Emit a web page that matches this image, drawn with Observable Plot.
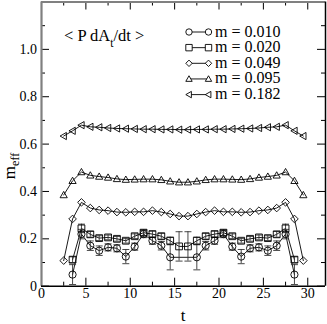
<!DOCTYPE html>
<html><head><meta charset="utf-8">
<script src="https://cdn.jsdelivr.net/npm/d3@7"></script>
<script src="https://cdn.jsdelivr.net/npm/@observablehq/plot@0.6"></script>
<style>
body{margin:0;background:#fff}
svg{display:block}
svg text, svg tspan{font-family:"Liberation Serif","Times New Roman",serif !important;}
</style>
</head><body><div id="chart"></div>
<script>
// ---- data ----
const tFull = [2.5,3.5,4.5,5.5,6.5,7.5,8.5,9.5,10.5,11.5,12.5,13.5,14.5,15.5,16.5,17.5,18.5,19.5,20.5,21.5,22.5,23.5,24.5,25.5,26.5,27.5,28.5,29.5];
const m182 = [0.634,0.656,0.680,0.673,0.671,0.668,0.666,0.665,0.664,0.663,0.663,0.662,0.662,0.661,0.661,0.662,0.662,0.663,0.663,0.664,0.665,0.666,0.668,0.671,0.673,0.680,0.656,0.634];
const m095 = [0.385,0.445,0.482,0.468,0.463,0.459,0.453,0.450,0.451,0.452,0.452,0.449,0.443,0.439,0.439,0.443,0.449,0.452,0.452,0.451,0.450,0.453,0.459,0.463,0.468,0.482,0.445,0.385];
const m049 = [0.108,0.284,0.354,0.330,0.322,0.319,0.313,0.312,0.314,0.314,0.319,0.313,0.305,0.296,0.296,0.305,0.313,0.319,0.314,0.314,0.312,0.313,0.319,0.322,0.330,0.354,0.284,0.108];

const tMid = [3.5,4.5,5.5,6.5,7.5,8.5,9.5,10.5,11.5,12.5,13.5,14.5,15.5,16.5,17.5,18.5,19.5,20.5,21.5,22.5,23.5,24.5,25.5,26.5,27.5,28.5];
const m020 = [0.112,0.244,0.219,0.203,0.206,0.200,0.192,0.211,0.226,0.220,0.211,0.192,0.168,0.168,0.192,0.211,0.220,0.226,0.211,0.192,0.200,0.206,0.203,0.219,0.244,0.112];
const e020 = [0.012,0.018,0.012,0.010,0.010,0.010,0.010,0.010,0.012,0.012,0.012,0.015,0.062,0.062,0.015,0.012,0.012,0.012,0.010,0.010,0.010,0.010,0.010,0.012,0.018,0.012];

const tLow = [3.5,4.5,5.5,6.5,7.5,8.5,9.5,10.5,11.5,12.5,13.5,14.5,17.5,18.5,19.5,20.5,21.5,22.5,23.5,24.5,25.5,26.5,27.5,28.5];
const m010 = [0.049,0.220,0.171,0.150,0.164,0.160,0.125,0.167,0.220,0.192,0.171,0.122,0.122,0.171,0.192,0.220,0.167,0.125,0.160,0.164,0.150,0.171,0.220,0.049];
const e010 = [0.042,0.020,0.020,0.020,0.015,0.015,0.030,0.015,0.015,0.015,0.018,0.053,0.053,0.018,0.015,0.015,0.015,0.030,0.015,0.015,0.020,0.020,0.020,0.042];

const seriesNames = ["m = 0.010","m = 0.020","m = 0.049","m = 0.095","m = 0.182"];
const xTicks = [0,5,10,15,20,25,30];
const xMinor = [2.5,7.5,12.5,17.5,22.5,27.5];
const yTicks = [0,0.2,0.4,0.6,0.8,1.0];
const yMinor = [0.1,0.3,0.5,0.7,0.9,1.1];

// ---- symbols ----
const mk = f => ({draw(c, size){ const r = Math.sqrt(size/Math.PI); f(c, r); }});
const symCircle = mk((c,r)=>{ c.moveTo(r,0); c.arc(0,0,r,0,2*Math.PI); c.closePath(); });
const symSquare = mk((c,r)=>{ c.moveTo(-r,-r); c.lineTo(r,-r); c.lineTo(r,r); c.lineTo(-r,r); c.closePath(); });
const symDiamond = mk((c,r)=>{ c.moveTo(0,-r); c.lineTo(r,0); c.lineTo(0,r); c.lineTo(-r,0); c.closePath(); });
const symUp = mk((c,r)=>{ c.moveTo(0,-r); c.lineTo(r,r*0.75); c.lineTo(-r,r*0.75); c.closePath(); });
const symLeft = mk((c,r)=>{ c.moveTo(-r,0); c.lineTo(r*0.75,-r); c.lineTo(r*0.75,r); c.closePath(); });
const symCap = mk((c,r)=>{ c.moveTo(-r,0); c.lineTo(r,0); });

const series = [
  {name: seriesNames[0], t: tLow, v: m010, e: e010, symbol: symCircle, r: 3.6},
  {name: seriesNames[1], t: tMid, v: m020, e: e020, symbol: symSquare, r: 3.4},
  {name: seriesNames[2], t: tFull, v: m049, e: null, symbol: symDiamond, r: 3.8},
  {name: seriesNames[3], t: tFull, v: m095, e: null, symbol: symUp, r: 3.6},
  {name: seriesNames[4], t: tFull, v: m182, e: null, symbol: symLeft, r: 3.6}
];
const rowsOf = s => s.t.map((t,i)=>({t, v: s.v[i], e: s.e ? s.e[i] : 0, key: s.name}));
const rows = series.flatMap(rowsOf);
const errRows = rows.filter(d => d.e > 0);

const W = 327, H = 324, mL = 41, mR = 2, mT = 1.5, mB = 38.3;
const pw = W - mL - mR, ph = H - mT - mB;
const FONT = "Liberation Serif, Times New Roman, serif";

const chart = Plot.plot({
  width: W, height: H,
  marginLeft: mL, marginRight: mR, marginTop: mT, marginBottom: mB,
  style: {fontFamily: FONT, fontSize: "14px", color: "#000", background: "#fff"},
  x: {domain: [0, 32]},
  y: {domain: [0, 1.2]},
  marks: [
    Plot.axisX({ticks: xTicks, tickSize: 0, tickPadding: 1.5, label: null, fontSize: 14, fontFamily: FONT, fill: "#000"}),
    Plot.axisY({ticks: yTicks, tickSize: 0, tickPadding: 4.5, label: null, fontSize: 14, fontFamily: FONT, fill: "#000",
      tickFormat: d => d === 0 ? "0" : d.toFixed(1)}),
    // inward ticks
    Plot.tickY(yTicks, {y: d => d, insetRight: pw - 8, stroke: "#000"}),
    Plot.tickY(yMinor, {y: d => d, insetRight: pw - 4, stroke: "#000"}),
    Plot.tickY(yTicks, {y: d => d, insetLeft: pw - 8, stroke: "#000"}),
    Plot.tickY(yMinor, {y: d => d, insetLeft: pw - 4, stroke: "#000"}),
    Plot.tickX(xTicks, {x: d => d, insetTop: ph - 8, stroke: "#000"}),
    Plot.tickX(xMinor, {x: d => d, insetTop: ph - 4, stroke: "#000"}),
    Plot.tickX(xTicks, {x: d => d, insetBottom: ph - 8, stroke: "#000"}),
    Plot.tickX(xMinor, {x: d => d, insetBottom: ph - 4, stroke: "#000"}),
    // frame
    Plot.ruleY([1.2], {stroke: "#808080", strokeWidth: 2.2}),
    Plot.ruleX([0], {stroke: "#808080", strokeWidth: 2.2}),
    Plot.ruleY([0], {stroke: "#000", strokeWidth: 1.5}),
    Plot.ruleX([32], {stroke: "#000", strokeWidth: 1.5}),
    // data
    Plot.line(rows, {x: "t", y: "v", z: "key", stroke: "#000", strokeWidth: 0.9}),
    Plot.ruleX(errRows, {x: "t", y1: d => d.v - d.e, y2: d => d.v + d.e, stroke: "#333", strokeWidth: 0.9}),
    Plot.dot(errRows, {x: "t", y: d => d.v + d.e, symbol: symCap, r: 3.5, stroke: "#333", fill: "none", strokeWidth: 0.9}),
    Plot.dot(errRows, {x: "t", y: d => d.v - d.e, symbol: symCap, r: 3.5, stroke: "#333", fill: "none", strokeWidth: 0.9}),
    ...series.map(s => Plot.dot(rowsOf(s), {x: "t", y: "v", symbol: s.symbol, r: s.r, stroke: "#000", fill: "none", strokeWidth: 0.9}))
  ]
});
document.getElementById("chart").appendChild(chart);

// ---- annotations and legend ----
const svg = d3.select(chart);
const g = svg.append("g").attr("font-family", FONT).attr("fill", "#000").attr("text-anchor", "start");

// x label
g.append("text").attr("x", 183).attr("y", 320.5).attr("text-anchor", "middle").attr("font-size", 17).text("t");
// y label m_eff
const yl = g.append("text").attr("transform", "translate(15,166) rotate(-90)").attr("text-anchor", "middle").attr("font-size", 17);
yl.append("tspan").text("m");
yl.append("tspan").attr("dy", 4).attr("font-size", 12).text("eff");

// "< P dA_t/dt >"
const lab = g.append("text").attr("x", 64).attr("y", 40.5).attr("font-size", 16.5);
lab.append("tspan").text("< P dA");
lab.append("tspan").attr("dy", 6).attr("font-size", 11.5).text("t");
lab.append("tspan").attr("dy", -6).text("/dt >");

// legend
const legendY0 = 36.5, legendStep = 15.65;
series.forEach((s, i) => {
  const base = legendY0 + i * legendStep;
  const cy = base - 4.5;
  const row = g.append("g");
  row.append("line").attr("x1", 189).attr("x2", 208.5).attr("y1", cy).attr("y2", cy).attr("stroke", "#000").attr("stroke-width", 0.9);
  [189, 208.5].forEach(cx => {
    const p = d3.path();
    s.symbol.draw(p, 3.2 * 3.2 * Math.PI);
    row.append("path").attr("d", p.toString()).attr("transform", `translate(${cx},${cy})`).attr("fill", "#fff").attr("stroke", "#000").attr("stroke-width", 0.9);
  });
  row.append("text").attr("x", 215).attr("y", base).attr("font-size", 16).text(s.name);
});
</script>
</body></html>
